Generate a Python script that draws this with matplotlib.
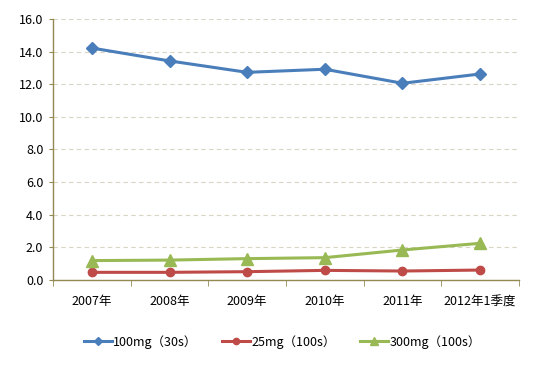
import matplotlib.pyplot as plt
import numpy as np

plt.rcParams['font.family'] = ['Noto Sans CJK SC', 'DejaVu Sans']

# --- data ---
categories = ['2007年', '2008年', '2009年', '2010年', '2011年', '2012年1季度']
s_100mg = [14.22, 13.43, 12.73, 12.92, 12.06, 12.63]
s_25mg = [0.47, 0.47, 0.51, 0.59, 0.55, 0.61]
s_300mg = [1.19, 1.22, 1.31, 1.37, 1.84, 2.25]
labels = ['100mg（30s）', '25mg（100s）', '300mg（100s）']

fig = plt.figure(figsize=(5.43, 3.70), dpi=100)
ax = fig.add_axes([53 / 543, 90 / 370, 466 / 543, 261 / 370])

x = np.arange(len(categories))
ax.plot(x, s_100mg, color='#4A7EBB', lw=2.2, marker='D', ms=6, label=labels[0])
ax.plot(x, s_25mg, color='#BE4B48', lw=2.2, marker='o', ms=6, label=labels[1])
ax.plot(x, s_300mg, color='#98B954', lw=2.2, marker='^', ms=8, label=labels[2])

ax.set_xlim(-0.5, len(categories) - 0.5)
ax.set_ylim(0, 16)
ax.set_yticks(np.arange(0, 16.1, 2))
ax.set_yticklabels([f'{v:.1f}' for v in np.arange(0, 16.1, 2)])
ax.set_xticks(x)
ax.set_xticklabels(categories)
ax.set_xticks(np.arange(-0.5, len(categories)), minor=True)
ax.tick_params(axis='x', which='major', length=0, pad=11, labelsize=9)
ax.tick_params(axis='x', which='minor', length=4, color='#938953')
ax.tick_params(axis='y', length=3, color='#938953', labelsize=9, pad=4)

ax.grid(axis='y', color='#D9D4C3', linestyle=(0, (4, 3)), lw=0.8)
ax.set_axisbelow(True)
for side in ['top', 'right']:
    ax.spines[side].set_visible(False)
for side in ['left', 'bottom']:
    ax.spines[side].set_color('#938953')
    ax.spines[side].set_linewidth(1.0)

fig.legend(loc='center', bbox_to_anchor=(0.52, 28 / 370), ncol=3, frameon=False,
           fontsize=9, handlelength=2.2, columnspacing=2.0, handletextpad=0.1,
           markerscale=0.75)

fig.savefig('out.png', dpi=100)
